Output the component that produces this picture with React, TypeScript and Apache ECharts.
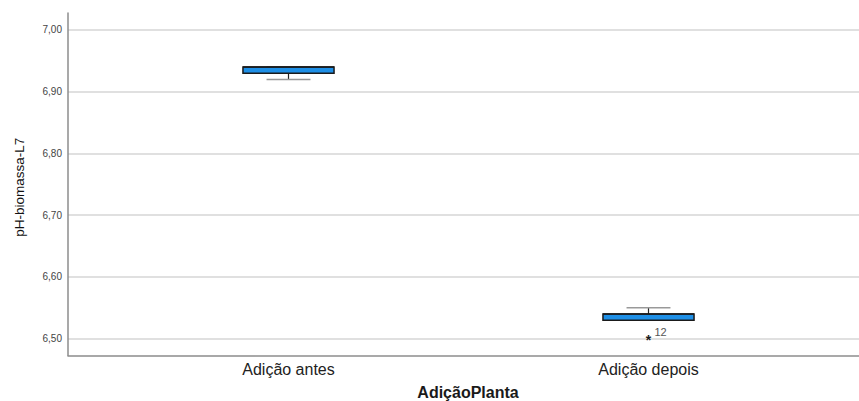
import React, { useEffect, useRef } from "react";
import * as echarts from "echarts";

const categories = ["Adição antes", "Adição depois"];
// [category index, lower whisker, Q1, median, Q3, upper whisker]
const boxStats = [
  [0, 6.92, 6.93, 6.94, 6.94, 6.94],
  [1, 6.53, 6.53, 6.54, 6.54, 6.55],
];
// [category index, value, case label]
const outliers = [[1, 6.5, "12"]];
const yMin = 6.4728;
const yMax = 7.0275;

const FONT = "Liberation Sans, Arial, sans-serif";
const fmt = (v: number) => v.toFixed(2).replace(".", ",");

export default function App() {
  const ref = useRef<HTMLDivElement>(null);
  useEffect(() => {
    if (!ref.current) return;
    const chart = echarts.init(ref.current, undefined, { renderer: "svg" });
    chart.setOption({
      animation: false,
      backgroundColor: "#ffffff",
      grid: [
        { left: 68, right: 0, top: 13, bottom: 45.5, outerBoundsMode: "none", containLabel: false },
        { left: 108.5, right: 30.5, top: 13, bottom: 45.5, outerBoundsMode: "none", containLabel: false },
      ],
      xAxis: [
        {
          gridIndex: 0,
          type: "category",
          data: ["", ""],
          axisLine: { show: true, lineStyle: { color: "#8c8c8c", width: 1.5 } },
          axisTick: { show: false },
          axisLabel: { show: false },
          name: "AdiçãoPlanta",
          nameLocation: "middle",
          nameGap: 29,
          nameTextStyle: {
            fontFamily: FONT,
            fontSize: 16,
            fontWeight: "bold",
            color: "#1a1a1a",
            padding: [0, 0, 0, 9],
          },
        },
        {
          gridIndex: 1,
          type: "category",
          data: categories,
          axisLine: { show: false },
          axisTick: { show: false },
          axisLabel: {
            fontFamily: FONT,
            fontSize: 16,
            color: "#222",
            margin: 6,
          },
        },
      ],
      yAxis: [
        {
          gridIndex: 0,
          type: "value",
          min: yMin,
          max: yMax,
          splitNumber: 5,
          axisLine: { show: true, lineStyle: { color: "#8c8c8c", width: 1.5 } },
          axisTick: { show: false },
          axisLabel: {
            fontFamily: FONT,
            fontSize: 10,
            color: "#444",
            margin: 6,
            showMinLabel: false,
            showMaxLabel: false,
            formatter: (v: number) => fmt(v),
          },
          splitLine: {
            show: true,
            showMinLine: false,
            showMaxLine: false,
            lineStyle: { color: "#d6d6d6", width: 1.5 },
          },
          name: "pH-biomassa-L7",
          nameLocation: "middle",
          nameGap: 42,
          nameTextStyle: {
            fontFamily: FONT,
            fontSize: 13.5,
            color: "#111",
            padding: [0, 6, 0, 0],
          },
        },
        {
          gridIndex: 1,
          type: "value",
          min: yMin,
          max: yMax,
          show: false,
          splitLine: { show: false },
        },
      ],
      series: [
        {
          type: "custom",
          xAxisIndex: 1,
          yAxisIndex: 1,
          data: boxStats,
          encode: { x: 0, y: [1, 2, 3, 4, 5] },
          renderItem: (params: any, api: any) => {
            const idx = api.value(0);
            const pMin = api.coord([idx, api.value(1)]);
            const pQ1 = api.coord([idx, api.value(2)]);
            const pMed = api.coord([idx, api.value(3)]);
            const pQ3 = api.coord([idx, api.value(4)]);
            const pMax = api.coord([idx, api.value(5)]);
            const band = api.size([1, 0])[0];
            const boxW = band * 0.253;
            const capW = band * 0.122;
            const cx = pQ1[0];
            const children: any[] = [];
            children.push({
              type: "line",
              shape: { x1: cx, y1: pQ1[1], x2: cx, y2: pMin[1] },
              style: { stroke: "#222", lineWidth: 1.2 },
            });
            children.push({
              type: "line",
              shape: { x1: cx, y1: pQ3[1], x2: cx, y2: pMax[1] },
              style: { stroke: "#222", lineWidth: 1.2 },
            });
            children.push({
              type: "line",
              shape: { x1: cx - capW / 2, y1: pMin[1], x2: cx + capW / 2, y2: pMin[1] },
              style: { stroke: "#999", lineWidth: 1.5 },
            });
            children.push({
              type: "line",
              shape: { x1: cx - capW / 2, y1: pMax[1], x2: cx + capW / 2, y2: pMax[1] },
              style: { stroke: "#999", lineWidth: 1.5 },
            });
            children.push({
              type: "rect",
              shape: {
                x: cx - boxW / 2,
                y: pQ3[1],
                width: boxW,
                height: pQ1[1] - pQ3[1],
              },
              style: { fill: "#1E8FE6", stroke: "#1a1a1a", lineWidth: 1.5 },
            });
            children.push({
              type: "line",
              shape: { x1: cx - boxW / 2, y1: pMed[1], x2: cx + boxW / 2, y2: pMed[1] },
              style: { stroke: "#1a1a1a", lineWidth: 1.5 },
            });
            return { type: "group", children };
          },
        },
        {
          type: "custom",
          xAxisIndex: 1,
          yAxisIndex: 1,
          data: outliers,
          encode: { x: 0, y: 1 },
          renderItem: (params: any, api: any) => {
            const p = api.coord([api.value(0), api.value(1)]);
            const label = outliers[params.dataIndex][2] as string;
            return {
              type: "group",
              children: [
                {
                  type: "text",
                  x: p[0],
                  y: p[1] + 1,
                  style: {
                    text: "*",
                    fontFamily: FONT,
                    fontSize: 14,
                    fontWeight: "bold",
                    fill: "#1a1a1a",
                    align: "center",
                    verticalAlign: "middle",
                  },
                },
                {
                  type: "text",
                  x: p[0] + 6,
                  y: p[1] - 7,
                  style: {
                    text: label,
                    fontFamily: FONT,
                    fontSize: 11,
                    fill: "#555",
                    align: "left",
                    verticalAlign: "middle",
                  },
                },
              ],
            };
          },
        },
      ],
    });
    return () => chart.dispose();
  }, []);
  return <div ref={ref} style={{ width: 859, height: 401, position: "absolute", left: 0, top: 0 }} />;
}
